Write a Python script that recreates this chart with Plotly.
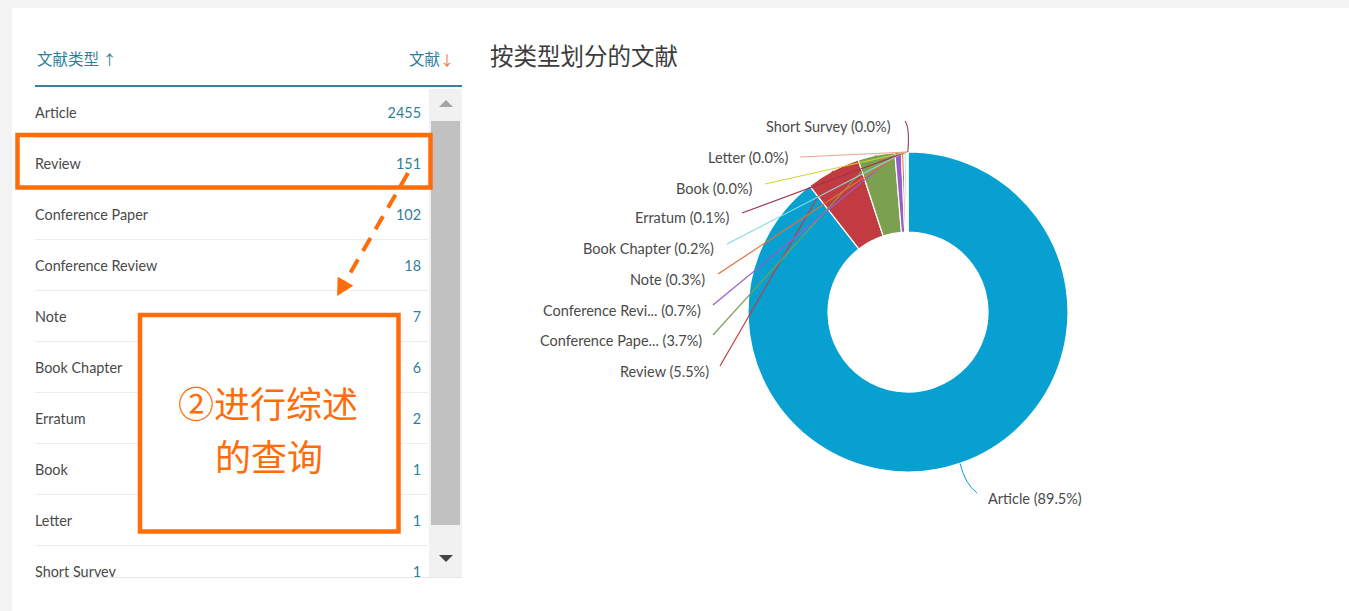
import math
import plotly.graph_objects as go

W, H = 1349, 611

# ---------------- data ----------------
doc_types = ["Article", "Review", "Conference Paper", "Conference Review", "Note",
             "Book Chapter", "Erratum", "Book", "Letter", "Short Survey"]
doc_counts = [2455, 151, 102, 18, 7, 6, 2, 1, 1, 1]
pie_names = ["Article", "Review", "Conference Pape...", "Conference Revi...", "Note",
             "Book Chapter", "Erratum", "Book", "Letter", "Short Survey"]
slice_colors = ["#07A0D1", "#C23B40", "#7BA04F", "#9A5CC8", "#E0703A",
                "#86DADF", "#A3304E", "#D9D23A", "#E9A38D", "#A3475F"]
chart_title = "按类型划分的文献"
col_type = "文献类型"
col_docs = "文献"
note_line1 = "②进行综述"
note_line2 = "的查询"

# ---------------- helpers ----------------
def px(x):
    return x / W

def py(y):
    return 1 - y / H

ORANGE = "#FF6C0A"
TEAL = "#2F7F9C"
TXT = "#4A4A4A"
LAT = "Lato, 'Noto Sans', sans-serif"
CJK = "'Noto Sans CJK SC', Lato, sans-serif"

fig = go.Figure()

# ---------------- donut ----------------
cx, cy, R = 908, 312, 160
fig.add_trace(go.Pie(
    labels=pie_names, values=doc_counts, sort=False, direction="clockwise",
    rotation=0, hole=0.5, textinfo="none", hoverinfo="label+percent",
    marker=dict(colors=slice_colors, line=dict(color="white", width=1.2)),
    domain=dict(x=[px(cx - R), px(cx + R)], y=[py(cy + R), py(cy - R)]),
    showlegend=False,
))

total = sum(doc_counts)
pcts = [v / total * 100 for v in doc_counts]
mids = []
acc = 0
for v in doc_counts:
    f = (acc + v / 2) / total
    th = 2 * math.pi * f
    mids.append((cx + R * math.sin(th), cy - R * math.cos(th)))
    acc += v

shapes = []
annotations = []

# label layout (right end x, centre y, connector start)
label_pos = {
    "Short Survey": (893, 127, (905, 121)),
    "Letter": (790, 157, (800, 157)),
    "Book": (755, 188, (765, 184)),
    "Erratum": (731, 218, (742, 213)),
    "Book Chapter": (716, 249, (727, 244)),
    "Note": (707, 279, (718, 274)),
    "Conference Revi...": (703, 310, (713, 305)),
    "Conference Pape...": (704, 340, (713, 335)),
    "Review": (711, 371, (720, 366)),
}
LBL = 14.5
for i, name in enumerate(pie_names):
    txt = f"{name} ({pcts[i]:.1f}%)"
    mx, my = mids[i]
    col = slice_colors[i]
    if name == "Article":
        annotations.append(dict(x=px(986), y=py(498), xref="paper", yref="paper",
                                text=txt, showarrow=False, xanchor="left", yanchor="middle",
                                font=dict(family=LAT, size=LBL, color=TXT)))
        shapes.append(dict(type="path", xref="paper", yref="paper",
                           path=f"M {px(mx)} {py(my)} Q {px(965)} {py(484)} {px(977)} {py(493)}",
                           line=dict(color=col, width=1)))
        continue
    rx, ry, (sx, sy) = label_pos[name]
    annotations.append(dict(x=px(rx), y=py(ry), xref="paper", yref="paper",
                            text=txt, showarrow=False, xanchor="right", yanchor="middle",
                            font=dict(family=LAT, size=LBL, color=TXT)))
    if name == "Short Survey":
        shapes.append(dict(type="path", xref="paper", yref="paper",
                           path=f"M {px(sx)} {py(sy)} Q {px(910)} {py(128)} {px(mx)} {py(my)}",
                           line=dict(color=col, width=1.2)))
    else:
        shapes.append(dict(type="line", xref="paper", yref="paper",
                           x0=px(sx), y0=py(sy), x1=px(mx), y1=py(my),
                           line=dict(color=col, width=1.2)))

annotations.append(dict(x=px(488), y=py(55), xref="paper", yref="paper", text=chart_title,
                        showarrow=False, xanchor="left", yanchor="middle",
                        font=dict(family=CJK, size=23.5, color="#3C3C3C")))

# ---------------- page background ----------------
bg_shapes = [
    dict(type="rect", xref="paper", yref="paper", x0=px(12), x1=1, y0=0, y1=py(8),
         fillcolor="white", line=dict(width=0), layer="below"),
]

# ---------------- table ----------------
ROW0, ROWH = 112, 51
TOP, BOT = 89, 577
rows = list(range(len(doc_types)))
fig.add_trace(go.Scatter(
    x=[35] * len(doc_types), y=rows, mode="text", text=doc_types,
    textposition="middle right", cliponaxis=True,
    textfont=dict(family=LAT, size=14.4, color=TXT), hoverinfo="skip", showlegend=False,
    xaxis="x", yaxis="y"))
fig.add_trace(go.Scatter(
    x=[421] * len(doc_counts), y=rows, mode="text", text=[str(c) for c in doc_counts],
    textposition="middle left", cliponaxis=True,
    textfont=dict(family=LAT, size=14.4, color=TEAL), hoverinfo="skip", showlegend=False,
    xaxis="x", yaxis="y"))

fig.update_layout(
    xaxis=dict(domain=[px(35), px(462)], range=[35, 462], visible=False, fixedrange=True),
    yaxis=dict(domain=[py(BOT), py(TOP)],
               range=[(BOT - ROW0 - 2) / ROWH, (TOP - ROW0 - 2) / ROWH],
               visible=False, fixedrange=True),
)

# header
annotations.append(dict(x=px(35), y=py(58), xref="paper", yref="paper",
                        text=f"{col_type} <span style='font-size:14px'>↑</span>", showarrow=False,
                        xanchor="left", yanchor="middle",
                        font=dict(family=CJK, size=15.5, color=TEAL)))
annotations.append(dict(x=px(456), y=py(58), xref="paper", yref="paper",
                        text=f"{col_docs}<span style='color:#F07A35;font-size:14px'>↓</span>",
                        showarrow=False, xanchor="right", yanchor="middle",
                        font=dict(family=CJK, size=15.5, color=TEAL)))
tbl_shapes = [
    dict(type="line", xref="paper", yref="paper", x0=px(35), x1=px(462), y0=py(86), y1=py(86),
         line=dict(color="#3B7E98", width=2)),
    dict(type="line", xref="paper", yref="paper", x0=px(35), x1=px(462), y0=py(577.5), y1=py(577.5),
         line=dict(color="#E6E6E6", width=1)),
]
for i in range(len(doc_types) - 1):
    yy = ROW0 + ROWH * (i + 0.5)
    tbl_shapes.append(dict(type="line", xref="paper", yref="paper", x0=px(35), x1=px(428),
                           y0=py(yy), y1=py(yy), line=dict(color="#ECECEC", width=1.2), layer="below"))
# scrollbar
tbl_shapes += [
    dict(type="rect", xref="paper", yref="paper", x0=px(429), x1=px(462), y0=py(577), y1=py(89),
         fillcolor="#F1F1F1", line=dict(width=0)),
    dict(type="rect", xref="paper", yref="paper", x0=px(431), x1=px(460), y0=py(525), y1=py(121),
         fillcolor="#C1C1C1", line=dict(width=0)),
    dict(type="path", xref="paper", yref="paper",
         path=f"M {px(439)} {py(107)} L {px(453)} {py(107)} L {px(446)} {py(100)} Z",
         fillcolor="#A3A3A3", line=dict(width=0)),
    dict(type="path", xref="paper", yref="paper",
         path=f"M {px(439)} {py(555)} L {px(453)} {py(555)} L {px(446)} {py(562)} Z",
         fillcolor="#444444", line=dict(width=0)),
]

# ---------------- orange callouts ----------------
call_shapes = [
    dict(type="rect", xref="paper", yref="paper", x0=px(17.5), x1=px(430.5), y0=py(187.5), y1=py(135),
         line=dict(color=ORANGE, width=4.5)),
    dict(type="rect", xref="paper", yref="paper", x0=px(140), x1=px(398.5), y0=py(531.5), y1=py(315),
         fillcolor="white", line=dict(color=ORANGE, width=4.5)),
]
sx0, sy0, tx, ty = 408, 173, 337, 296
dx, dy = tx - sx0, ty - sy0
L = math.hypot(dx, dy)
ux, uy = dx / L, dy / L
hl, hw = 17, 9
bx, by = tx - hl * ux, ty - hl * uy
nx, ny = -uy, ux
call_shapes.append(dict(type="line", xref="paper", yref="paper", x0=px(sx0), y0=py(sy0),
                        x1=px(bx + 2 * ux), y1=py(by + 2 * uy),
                        line=dict(color=ORANGE, width=4, dash="15px,10px")))
call_shapes.append(dict(type="path", xref="paper", yref="paper",
                        path=(f"M {px(tx)} {py(ty)} L {px(bx + hw * nx)} {py(by + hw * ny)} "
                              f"L {px(bx - hw * nx)} {py(by - hw * ny)} Z"),
                        fillcolor=ORANGE, line=dict(width=0)))
annotations.append(dict(x=px(268), y=py(402), xref="paper", yref="paper", text=note_line1,
                        showarrow=False, xanchor="center", yanchor="middle",
                        font=dict(family=CJK, size=36, color=ORANGE)))
annotations.append(dict(x=px(269), y=py(455), xref="paper", yref="paper", text=note_line2,
                        showarrow=False, xanchor="center", yanchor="middle",
                        font=dict(family=CJK, size=36, color=ORANGE)))

fig.update_layout(
    width=W, height=H, margin=dict(l=0, r=0, t=0, b=0),
    paper_bgcolor="#F3F3F3", plot_bgcolor="rgba(0,0,0,0)",
    shapes=bg_shapes + tbl_shapes + shapes + call_shapes,
    annotations=annotations,
    showlegend=False,
)

fig.write_html("out.html", config={"displayModeBar": False},
               post_script="document.body.style.margin='0px';document.body.style.overflow='hidden';")
